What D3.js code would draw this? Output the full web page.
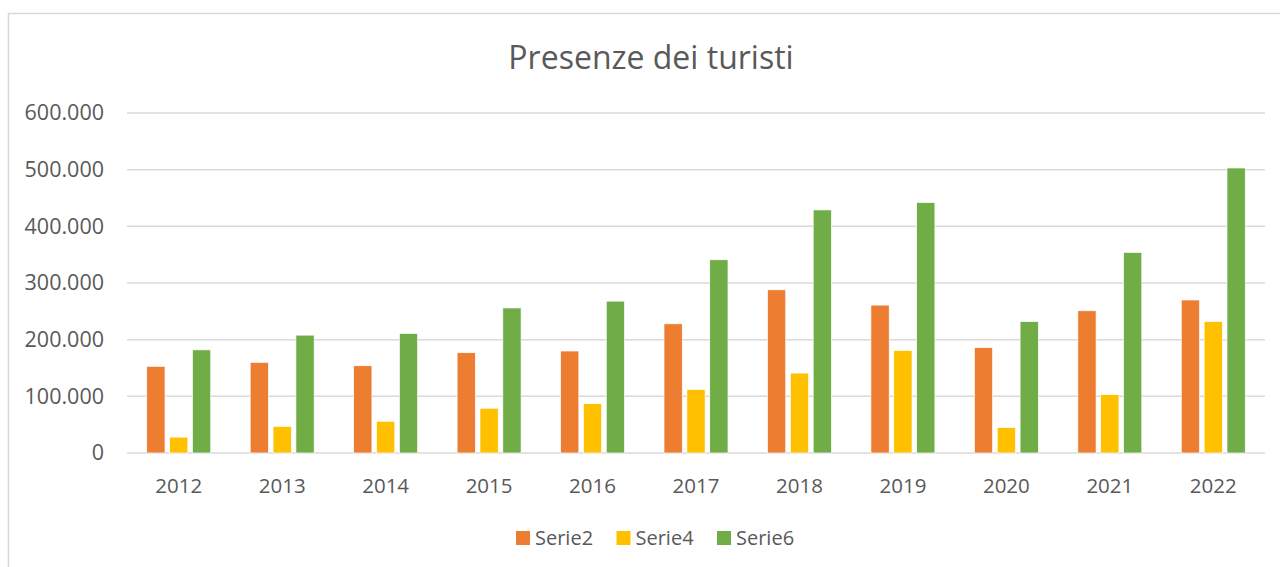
<!DOCTYPE html>
<html>
<head>
<meta charset="utf-8">
<script src="https://cdn.jsdelivr.net/npm/d3@7"></script>
<style>
  body { margin: 0; background: #fff; }
  text { font-family: "Open Sans", "Liberation Sans", sans-serif; fill: #595959; }
</style>
</head>
<body>
<div id="chart"></div>
<script>
// chart data
var years = ["2012", "2013", "2014", "2015", "2016", "2017", "2018", "2019", "2020", "2021", "2022"];
var seriesNames = ["Serie2", "Serie4", "Serie6"];
var serie2 = [153000, 160000, 154000, 177000, 180000, 228000, 288000, 261000, 186000, 251000, 270000];
var serie4 = [28000, 47000, 56000, 79000, 87000, 112000, 141000, 181000, 45000, 103000, 232000];
var serie6 = [182000, 208000, 211000, 256000, 268000, 341000, 429000, 442000, 232000, 354000, 503000];
var yTicks = [0, 100000, 200000, 300000, 400000, 500000, 600000];
var colors = ["#ed7d31", "#ffc000", "#70ad47"];

var svgWidth = 1280;
var svgHeight = 567;

var margin = { top: 113, right: 15, bottom: 114, left: 127 };
var width = svgWidth - margin.left - margin.right;
var height = svgHeight - margin.top - margin.bottom;

var svg = d3.select("#chart")
  .append("svg")
  .attr("width", svgWidth)
  .attr("height", svgHeight);

// outer chart border
svg.append("rect")
  .attr("x", 8.5)
  .attr("y", 13.5)
  .attr("width", svgWidth)
  .attr("height", svgHeight)
  .attr("fill", "none")
  .attr("stroke", "#d9d9d9")
  .attr("stroke-width", 1.5);

// title
svg.append("text")
  .attr("x", 651)
  .attr("y", 69)
  .attr("text-anchor", "middle")
  .style("font-size", "32px")
  .text("Presenze dei turisti");

var chartGroup = svg.append("g")
  .attr("transform", `translate(${margin.left}, ${margin.top})`);

var xScale = d3.scaleBand()
  .domain(years)
  .range([0, width]);

var xInner = d3.scaleBand()
  .domain(seriesNames)
  .range([0, 64])
  .paddingInner(0.2);

var yScale = d3.scaleLinear()
  .domain([0, 600000])
  .range([height, 0]);

// gridlines
chartGroup.append("g")
  .selectAll("line")
  .data(yTicks)
  .enter()
  .append("line")
  .attr("x1", 0)
  .attr("x2", width)
  .attr("y1", d => yScale(d))
  .attr("y2", d => yScale(d))
  .attr("stroke", "#d9d9d9")
  .attr("stroke-width", 1.5);

// y axis labels
var fmt = d3.formatLocale({ decimal: ",", thousands: ".", grouping: [3], currency: ["", "€"] }).format(",");
var leftAxis = d3.axisLeft(yScale)
  .tickValues(yTicks)
  .tickFormat(fmt)
  .tickSize(0)
  .tickPadding(23);

var yAxis = chartGroup.append("g").call(leftAxis);
yAxis.select(".domain").remove();
yAxis.selectAll("text").style("font-size", "21.5px").attr("fill", "#595959");

// x axis labels
var bottomAxis = d3.axisBottom(xScale).tickSize(0).tickPadding(25);
var xAxis = chartGroup.append("g")
  .attr("transform", `translate(0, ${height})`)
  .call(bottomAxis);
xAxis.select(".domain").remove();
xAxis.selectAll("text").style("font-size", "20.5px").attr("fill", "#595959");

// bars
var table = years.map((y, i) => ({ year: y, values: [serie2[i], serie4[i], serie6[i]] }));

var groups = chartGroup.selectAll(".yearGroup")
  .data(table)
  .enter()
  .append("g")
  .attr("transform", d => `translate(${xScale(d.year) + (xScale.bandwidth() - 64) / 2}, 0)`);

groups.selectAll("rect")
  .data(d => d.values.map((v, j) => ({ name: seriesNames[j], value: v, color: colors[j] })))
  .enter()
  .append("rect")
  .attr("x", d => xInner(d.name))
  .attr("y", d => yScale(d.value))
  .attr("width", xInner.bandwidth())
  .attr("height", d => height - yScale(d.value))
  .attr("fill", d => d.color)
  .attr("stroke", "#fff")
  .attr("stroke-width", 0.7);

// legend
var legend = svg.append("g")
  .attr("transform", "translate(516, 531)");

var items = legend.selectAll("g")
  .data(seriesNames)
  .enter()
  .append("g")
  .attr("transform", (d, i) => `translate(${i * 100.5}, 0)`);

items.append("rect")
  .attr("width", 14)
  .attr("height", 14)
  .attr("fill", (d, i) => colors[i]);

items.append("text")
  .attr("x", 19)
  .attr("y", 14)
  .style("font-size", "20px")
  .text(d => d);
</script>
</body>
</html>
